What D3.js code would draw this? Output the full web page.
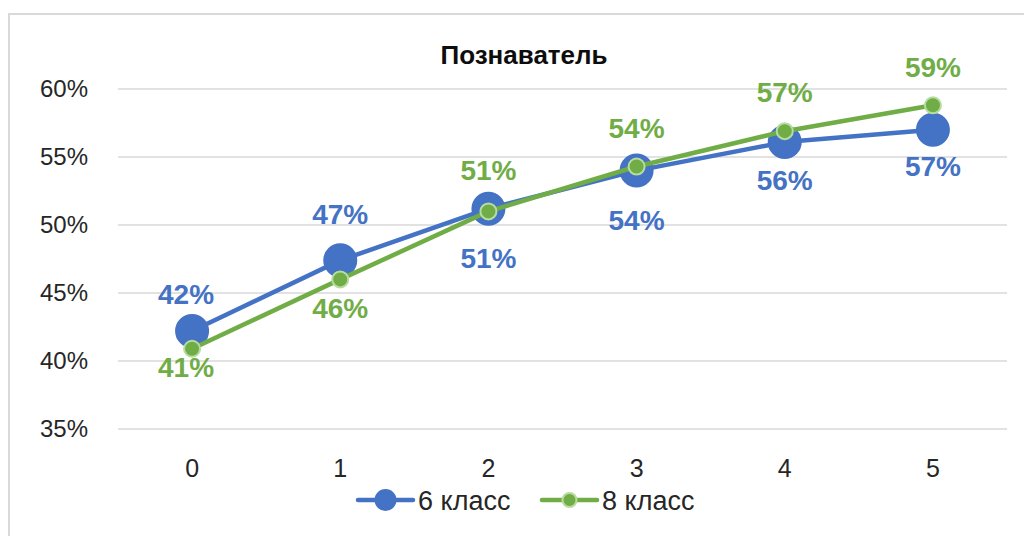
<!DOCTYPE html>
<html>
<head>
<meta charset="utf-8">
<script src="https://cdn.jsdelivr.net/npm/d3@7"></script>
<style>
  html, body { margin: 0; padding: 0; background: #fff; }
  svg { display: block; font-family: "Liberation Sans", Arial, sans-serif; }
</style>
</head>
<body>
<svg id="chart" width="1024" height="536"></svg>
<script>
// Chart data
const title = "Познаватель";
const categories = ["0", "1", "2", "3", "4", "5"];
const seriesNames = ["6 класс", "8 класс"];
const grade6 = [0.422, 0.474, 0.512, 0.540, 0.561, 0.570];
const grade8 = [0.409, 0.460, 0.510, 0.543, 0.569, 0.588];
const yTicks = [0.35, 0.40, 0.45, 0.50, 0.55, 0.60];

const svg = d3.select("#chart");
const W = 1024, H = 536;
const margin = { left: 118, right: 17, top: 89, bottom: 107 };

// Outer frame
svg.append("rect")
  .attr("x", 9).attr("y", 14)
  .attr("width", W + 20).attr("height", H + 20)
  .attr("fill", "#fff").attr("stroke", "#d9d9d9").attr("stroke-width", 2);

const x = d3.scaleBand()
  .domain(categories)
  .range([margin.left, W - margin.right]);

const y = d3.scaleLinear()
  .domain([0.35, 0.60])
  .range([H - margin.bottom, margin.top]);

const pct = d3.format(".0%");

// Gridlines
svg.append("g")
  .selectAll("line")
  .data(yTicks)
  .join("line")
  .attr("x1", margin.left).attr("x2", W - margin.right)
  .attr("y1", d => y(d)).attr("y2", d => y(d))
  .attr("stroke", "#d9d9d9").attr("stroke-width", 1.3);

// Y axis labels
const yAxis = d3.axisLeft(y).tickValues(yTicks).tickFormat(pct).tickSize(0).tickPadding(30);
svg.append("g")
  .attr("transform", `translate(${margin.left},0)`)
  .call(yAxis)
  .call(g => g.select(".domain").remove())
  .call(g => g.selectAll("text")
    .attr("font-size", 24).attr("fill", "#262626")
    .attr("font-family", "Liberation Sans, Arial, sans-serif"));

// X axis labels
const xAxis = d3.axisBottom(x).tickSize(0).tickPadding(30);
svg.append("g")
  .attr("transform", `translate(0,${y(0.35)})`)
  .call(xAxis)
  .call(g => g.select(".domain").remove())
  .call(g => g.selectAll("text")
    .attr("font-size", 25).attr("fill", "#262626")
    .attr("font-family", "Liberation Sans, Arial, sans-serif"));

// Title
svg.append("text")
  .attr("x", 524).attr("y", 64)
  .attr("text-anchor", "middle")
  .attr("font-size", 26).attr("font-weight", "bold").attr("fill", "#0d0d0d")
  .text(title);

const cx = (d, i) => x(categories[i]) + x.bandwidth() / 2;
const line = d3.line().x((d, i) => cx(d, i)).y(d => y(d));

// Label offsets from the marker centre (negative = above)
const series = [
  { name: seriesNames[0], values: grade6, color: "#4472c4",
    r: 16, markerStroke: "#4472c4", labelDy: [-37, -46, 49, 49, 38, 36] },
  { name: seriesNames[1], values: grade8, color: "#70ad47",
    r: 8, markerStroke: "#b6dca0", labelDy: [18, 29, -41, -39, -39, -38] }
];

series.forEach(s => {
  const g = svg.append("g");
  g.append("path")
    .datum(s.values)
    .attr("d", line)
    .attr("fill", "none")
    .attr("stroke", s.color)
    .attr("stroke-width", 4.5)
    .attr("stroke-linejoin", "round");
  g.selectAll("circle")
    .data(s.values)
    .join("circle")
    .attr("cx", cx)
    .attr("cy", d => y(d))
    .attr("r", s.r)
    .attr("fill", s.color)
    .attr("stroke", s.markerStroke)
    .attr("stroke-width", 2);
});

// Data labels drawn on top of both series
series.forEach(s => {
  svg.append("g")
    .selectAll("text")
    .data(s.values)
    .join("text")
    .attr("x", (d, i) => cx(d, i) - (i === 0 ? 6 : 0))
    .attr("y", (d, i) => y(d) + s.labelDy[i])
    .attr("dy", "0.36em")
    .attr("text-anchor", "middle")
    .attr("font-size", 28).attr("font-weight", "bold")
    .attr("fill", s.color)
    .text(d => pct(d));
});

// Legend
const legend = svg.append("g");
const legendItems = [
  { name: seriesNames[0], color: series[0].color, r: 10, stroke: series[0].markerStroke, x0: 358 },
  { name: seriesNames[1], color: series[1].color, r: 7, stroke: series[1].markerStroke, x0: 542 }
];
legendItems.forEach(it => {
  const ly = 500;
  legend.append("line")
    .attr("x1", it.x0).attr("x2", it.x0 + 55)
    .attr("y1", ly).attr("y2", ly)
    .attr("stroke", it.color).attr("stroke-width", 4.5).attr("stroke-linecap", "round");
  legend.append("circle")
    .attr("cx", it.x0 + 27.5).attr("cy", ly).attr("r", it.r)
    .attr("fill", it.color).attr("stroke", it.stroke).attr("stroke-width", 2);
  legend.append("text")
    .attr("x", it.x0 + 60).attr("y", ly).attr("dy", "0.36em")
    .attr("font-size", 27).attr("fill", "#262626")
    .text(it.name);
});
</script>
</body>
</html>
